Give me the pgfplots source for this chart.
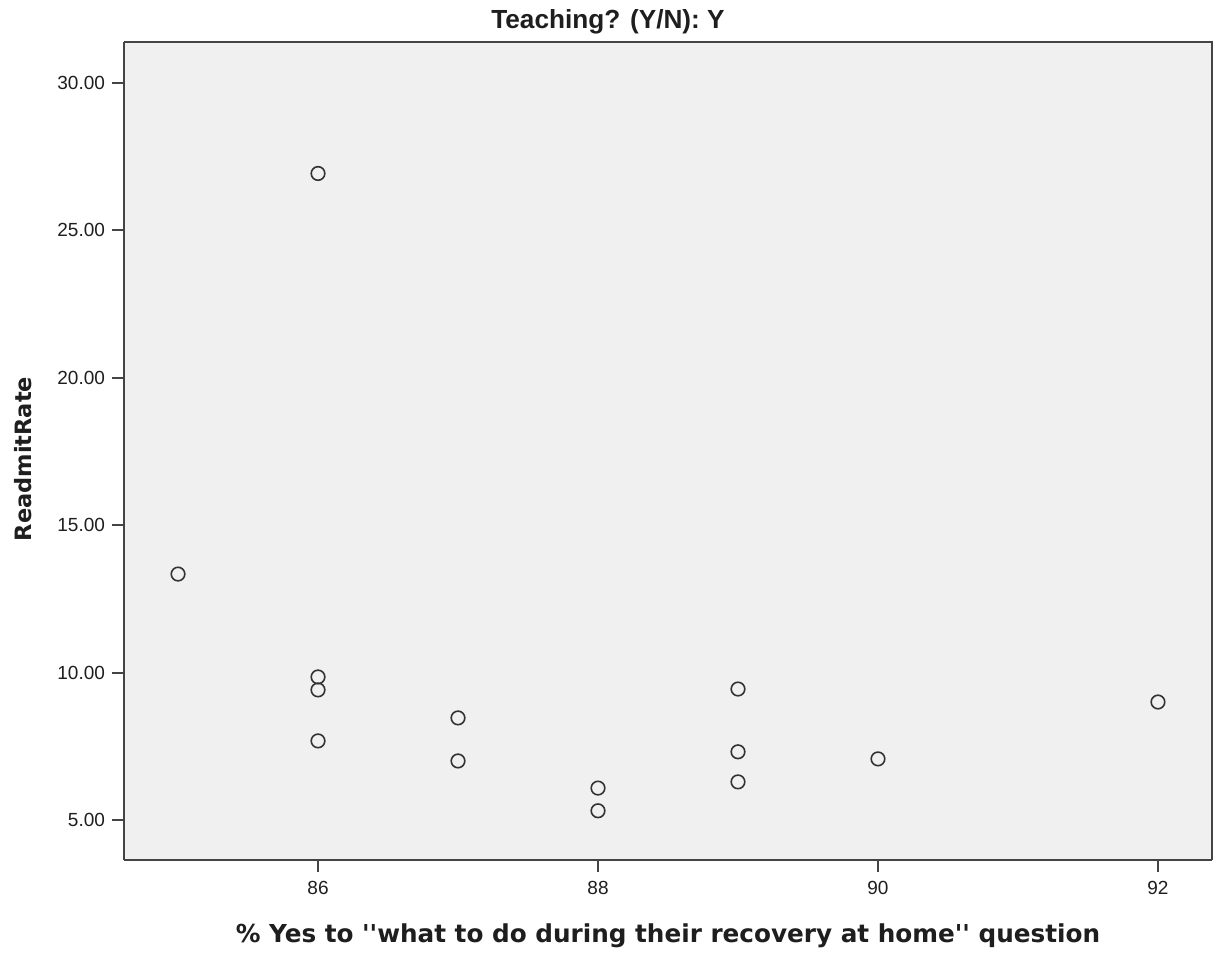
\documentclass[border=0pt]{standalone}
\usepackage{pgfplots}
\pgfplotsset{compat=1.18}
\usepackage{fontspec}
\setmainfont{Liberation Sans}
\newfontfamily\labelfont{DejaVu Sans}
\definecolor{PlotBg}{RGB}{240,240,240}
\definecolor{AxisGray}{RGB}{68,68,68}
\definecolor{MarkGray}{RGB}{50,50,50}
\definecolor{TextGray}{RGB}{30,30,30}

\begin{document}
\begin{tikzpicture}
% fixed frame: 1 px of the reference = 0.5pt
\useasboundingbox (-62pt,-46.5pt) rectangle (546pt,430pt);
\begin{axis}[
  scale only axis,
  width=544pt, height=409pt,
  xmin=84.614, xmax=92.386,
  ymin=3.64, ymax=31.39,
  xtick={86,88,90,92},
  ytick={5,10,15,20,25,30},
  axis background/.style={fill=PlotBg},
  axis line style={AxisGray,line width=1pt},
  axis x line*=bottom, axis y line*=left,
  tick style={AxisGray,line width=1pt},
  tick align=outside,
  major tick length=6pt,
  /pgf/number format/assume math mode=true,
  yticklabel style={/pgf/number format/.cd,fixed,fixed zerofill,precision=2},
  ticklabel style={font=\fontsize{9.5}{11}\selectfont,text=TextGray},
  xticklabel style={yshift=-1pt},
  clip=false,
]
\draw[AxisGray,line width=1pt] (rel axis cs:0,1) -- (rel axis cs:1,1) -- (rel axis cs:1,0);
\addplot[only marks,mark=o,mark size=3.4pt,mark options={line width=0.8pt,draw=MarkGray}]
  coordinates {
    (85,13.34)
    (86,26.93) (86,9.85) (86,9.41) (86,7.68)
    (87,8.46) (87,7.00)
    (88,6.08) (88,5.31)
    (89,9.44) (89,7.31) (89,6.29)
    (90,7.07)
    (92,9.00)
  };
\end{axis}
\node[font=\bfseries\fontsize{13.1}{15}\selectfont,text=TextGray] at (242pt,419pt) {Teaching? (Y/N): Y};
\node[font=\labelfont\bfseries\fontsize{12.35}{14}\selectfont,text=TextGray] at (272pt,-38pt)
  {\% Yes to ''what to do during their recovery at home'' question};
\node[font=\labelfont\bfseries\fontsize{11.25}{13}\selectfont,text=TextGray,rotate=90] at (-50.5pt,200.5pt) {ReadmitRate};
\end{tikzpicture}
\end{document}
